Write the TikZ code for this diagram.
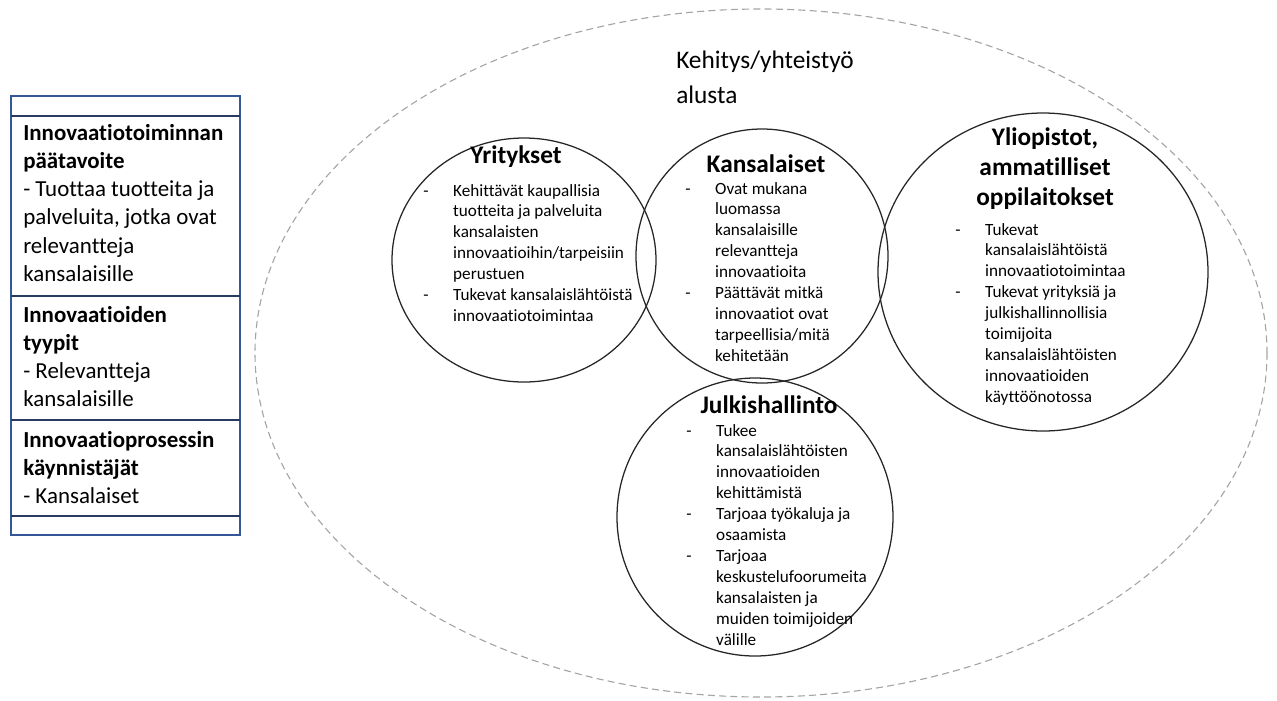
\documentclass[tikz,border=0pt]{standalone}
\usepackage{fontspec}
\setmainfont[Ligatures=NoCommon]{Carlito}
\usetikzlibrary{calc}
\definecolor{boxblue}{RGB}{52,88,150}
\definecolor{boxnavy}{RGB}{40,60,98}
\definecolor{platgray}{RGB}{165,165,165}
\newlength{\dashgap}\setlength{\dashgap}{21.3pt}
\newcommand{\dl}[1]{\makebox[\dashgap][l]{-}#1}
\newcommand{\cl}[1]{\hspace*{\dashgap}#1}
\tikzset{
	titletext/.style={anchor=base, inner sep=0, text width=200pt, align=center, font=\fontsize{18}{21.6}\selectfont\bfseries},
	bodytext/.style={anchor=base west, inner sep=0, text width=200pt, align=flush left, font=\fontsize{12.2}{14.9}\selectfont},
	boxtext/.style={anchor=base west, inner sep=0, text width=160pt, align=flush left, font=\fontsize{16.3}{20.1}\selectfont},
	bubble/.style={line width=0.9pt, black!85},
}
\begin{document}
\begin{tikzpicture}[x=0.025cm, y=-0.025cm]
			%%%%% START %%%%%
			\useasboundingbox (0, 0) rectangle (1277, 700);
			
			% left box
			\draw[boxblue, line width=0.8pt] (11, 96) rectangle (240, 535);
			\draw[boxnavy, line width=0.8pt] (11, 116) -- (240, 116);
			\draw[boxnavy, line width=0.8pt] (11, 296) -- (240, 296);
			\draw[boxnavy, line width=1.1pt] (11, 420) -- (240, 420);
			\draw[boxnavy, line width=0.8pt] (11, 516) -- (240, 516);
			
			\node[boxtext] (goal) at (23, 140) {\textbf{Innovaatiotoiminnan}\\\textbf{päätavoite}\\- Tuottaa tuotteita ja\\palveluita, jotka ovat\\relevantteja\\kansalaisille};
			\node[boxtext] (types) at (23, 322) {\textbf{Innovaatioiden}\\\textbf{tyypit}\\- Relevantteja\\kansalaisille};
			\node[boxtext] (starters) at (23, 447) {\textbf{Innovaatioprosessin}\\\textbf{käynnistäjät}\\- Kansalaiset};
			
			% platform
			\draw[platgray, line width=0.8pt, dash pattern=on 5pt off 3pt] (761, 353) ellipse [x radius=506, y radius=344];
			\node[anchor=base west, inner sep=0, text width=200pt, align=flush left, font=\fontsize{18}{24.9}\selectfont] (platform) at (676, 68) {Kehitys/yhteistyö\\alusta};
			
			% circles
			\draw[bubble] (524, 260) ellipse [x radius=132, y radius=122];
			\draw[bubble] (762, 256) ellipse [x radius=126, y radius=127];
			\draw[bubble] (1043, 272) ellipse [x radius=165, y radius=159];
			\draw[bubble] (755, 517) ellipse [x radius=138, y radius=139];
			
			% Yritykset
			\node[titletext] (yrit) at (516, 163) {Yritykset};
			\node[bodytext] (yritlist) at (423, 196) {\dl{Kehittävät kaupallisia}\\\cl{tuotteita ja palveluita}\\\cl{kansalaisten}\\\cl{innovaatioihin/tarpeisiin}\\\cl{perustuen}\\\dl{Tukevat kansalaislähtöistä}\\\cl{innovaatiotoimintaa}};
			
			% Kansalaiset
			\node[titletext] (kans) at (766, 172) {Kansalaiset};
			\node[bodytext] (kanslist) at (685, 194) {\dl{Ovat mukana}\\\cl{luomassa}\\\cl{kansalaisille}\\\cl{relevantteja}\\\cl{innovaatioita}\\\dl{Päättävät mitkä}\\\cl{innovaatiot ovat}\\\cl{tarpeellisia/mitä}\\\cl{kehitetään}};
			
			% Yliopistot
			\node[titletext] (yliop) at (1045, 145) {Yliopistot,\\ammatilliset\\oppilaitokset};
			\node[bodytext] (yliolist) at (955, 235) {\dl{Tukevat}\\\cl{kansalaislähtöistä}\\\cl{innovaatiotoimintaa}\\\dl{Tukevat yrityksiä ja}\\\cl{julkishallinnollisia}\\\cl{toimijoita}\\\cl{kansalaislähtöisten}\\\cl{innovaatioiden}\\\cl{käyttöönotossa}};
			
			% Julkishallinto
			\node[titletext] (julk) at (769, 413) {Julkishallinto};
			\node[bodytext] (julklist) at (686, 436) {\dl{Tukee}\\\cl{kansalaislähtöisten}\\\cl{innovaatioiden}\\\cl{kehittämistä}\\\dl{Tarjoaa työkaluja ja}\\\cl{osaamista}\\\dl{Tarjoaa}\\\cl{keskustelufoorumeita}\\\cl{kansalaisten ja}\\\cl{muiden toimijoiden}\\\cl{välille}};
			%%%%% END %%%%%
\end{tikzpicture}
\end{document}
